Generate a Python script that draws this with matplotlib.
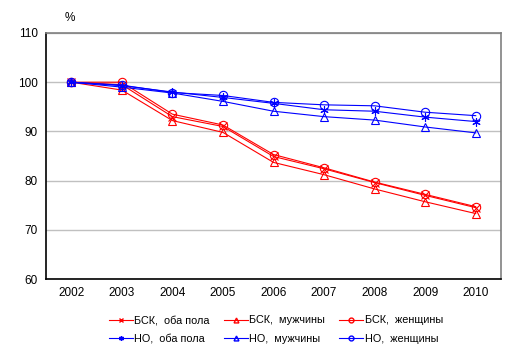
import matplotlib
matplotlib.use("Agg")
import matplotlib.pyplot as plt
from matplotlib.lines import Line2D

plt.rcParams['font.family'] = ['Liberation Sans', 'DejaVu Sans']

years = ["2002", "2003", "2004", "2005", "2006", "2007", "2008", "2009", "2010"]

bsk_both = [100, 99.5, 93.0, 91.0, 84.9, 82.4, 79.6, 77.0, 74.5]
bsk_men = [100, 98.4, 92.2, 89.8, 83.7, 81.2, 78.3, 75.7, 73.3]
bsk_women = [100, 100.0, 93.5, 91.3, 85.3, 82.6, 79.7, 77.2, 74.7]
no_both = [100, 99.3, 98.0, 96.9, 95.7, 94.4, 94.1, 92.9, 92.0]
no_men = [100, 99.0, 97.8, 96.1, 94.1, 93.0, 92.3, 90.9, 89.7]
no_women = [100, 99.4, 97.9, 97.3, 95.9, 95.4, 95.2, 93.9, 93.2]

labels = ["БСК,  оба пола", "БСК,  мужчины", "БСК,  женщины",
          "НО,  оба пола", "НО,  мужчины", "НО,  женщины"]

series = [bsk_both, bsk_men, bsk_women, no_both, no_men, no_women]
colors = ["#FF0000"] * 3 + ["#0000FF"] * 3
markers = ["x", "^", "o", (6, 2, 0), "^", "o"]

fig = plt.figure(figsize=(5.16, 3.54), dpi=100)
ax = fig.add_axes([46/516, 1 - 279/354, 455/516, 246/354])

x = list(range(len(years)))
for vals, c, m in zip(series, colors, markers):
    ax.plot(x, vals, color=c, lw=0.8, marker=m, markersize=6,
            markerfacecolor='none', markeredgecolor=c, markeredgewidth=0.8)

ax.set_xlim(-0.5, len(years) - 0.5)
ax.set_ylim(60, 110)
ax.set_yticks([60, 70, 80, 90, 100, 110])
ax.set_xticks(x)
ax.set_xticklabels(years)
ax.tick_params(length=0, labelsize=8.5, pad=6)
ax.yaxis.grid(True, color="#C0C0C0", lw=1)
ax.set_axisbelow(True)
for s in ["left", "bottom"]:
    ax.spines[s].set_color("black")
    ax.spines[s].set_linewidth(1.2)
for s in ["top", "right"]:
    ax.spines[s].set_color("#808080")
    ax.spines[s].set_linewidth(1.2)

fig.text(70/516, 1 - 18/354, "%", fontsize=8.5, ha="center", va="center")

handles = [Line2D([], [], color=c, lw=0.8, marker=m, markersize=3.5,
                  markerfacecolor='none', markeredgecolor=c)
           for c, m in zip(colors, markers)]
order = [0, 3, 1, 4, 2, 5]
fig.legend([handles[i] for i in order], [labels[i] for i in order],
           loc="center", bbox_to_anchor=(276/516, 1 - 329.5/354),
           ncol=3, frameon=False, fontsize=7.8, handlelength=2.2,
           handletextpad=0.15, columnspacing=1.3, labelspacing=0.75)

fig.savefig("out.png", dpi=100)
